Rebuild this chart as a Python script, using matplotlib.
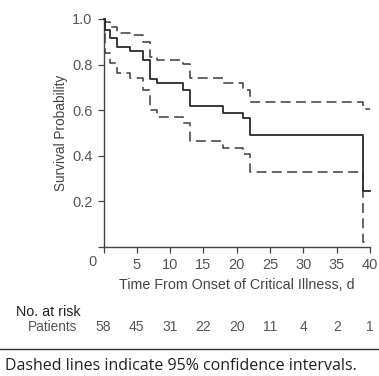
import matplotlib
matplotlib.use("Agg")
import matplotlib.pyplot as plt
from matplotlib.lines import Line2D

# ---- data ----
times = [0, 0.2, 1, 2, 4, 6, 7, 8, 12, 13, 18, 21, 22, 39, 40]
survival = [1.0, 0.95, 0.915, 0.878, 0.861, 0.82, 0.738, 0.72, 0.69, 0.618, 0.589, 0.564, 0.491, 0.247, 0.247]
upper_ci = [1.0, 0.985, 0.966, 0.94, 0.928, 0.90, 0.835, 0.82, 0.803, 0.74, 0.718, 0.69, 0.637, 0.604, 0.604]
lower_ci = [1.0, 0.852, 0.805, 0.765, 0.74, 0.69, 0.60, 0.571, 0.545, 0.465, 0.436, 0.407, 0.328, 0.023, 0.023]

x_ticks = [0, 5, 10, 15, 20, 25, 30, 35, 40]
x_tick_labels = ["", "5", "10", "15", "20", "25", "30", "35", "40"]
y_ticks = [0.0, 0.2, 0.4, 0.6, 0.8, 1.0]
y_tick_labels = ["", "0.2", "0.4", "0.6", "0.8", "1.0"]
risk_times = [0, 5, 10, 15, 20, 25, 30, 35, 40]
at_risk = [58, 45, 31, 22, 20, 11, 4, 2, 1]

W, H = 379, 376
plt.rcParams['font.family'] = ['Liberation Sans', 'DejaVu Sans']
fig = plt.figure(figsize=(W / 100, H / 100), dpi=100)

def fx(px):
    return px / W

def fy(py):
    return 1 - py / H

ax = fig.add_axes([fx(103.5), fy(247), fx(370) - fx(103.5), fy(19) - fy(247)])
ax.set_xlim(0, 40)
ax.set_ylim(0, 1.0)

tick_col = "#555555"
ax.step(times, survival, where="post", color="#2a2a2a", lw=1.3, clip_on=False, zorder=3)
ax.step(times, upper_ci, where="post", color="#3c3c3c", lw=1.1, dashes=(6.5, 3.5), clip_on=False)
ax.step(times, lower_ci, where="post", color="#3c3c3c", lw=1.1, dashes=(6.5, 3.5), clip_on=False)

for s in ["top", "right"]:
    ax.spines[s].set_visible(False)
for s in ["left", "bottom"]:
    ax.spines[s].set_color("#444444")
    ax.spines[s].set_linewidth(1.0)

ax.set_xticks(x_ticks)
ax.set_xticklabels(x_tick_labels)
ax.set_yticks(y_ticks)
ax.set_yticklabels(y_tick_labels)
ax.tick_params(axis="both", direction="out", length=4, width=0.9, color="#444444",
               labelcolor=tick_col, labelsize=10.5, pad=4)
ax.set_xlabel("Time From Onset of Critical Illness, d", fontsize=10.3, color="#444444", labelpad=4)
ax.set_ylabel("Survival Probability", fontsize=9.8, color="#444444", labelpad=3)

# origin label
ax.text(-1.6, -0.035, "0", transform=ax.transData, ha="center", va="top",
        fontsize=10.5, color=tick_col, clip_on=False)

# number at risk
fig.text(fx(15.7), fy(312), "No. at risk", ha="left", va="center", fontsize=10.3, color="#222222")
fig.text(fx(77), fy(327), "Patients", ha="right", va="center", fontsize=9.8, color="#555555")
for t, n in zip(risk_times, at_risk):
    xd = ax.transData.transform((t, 0))[0]
    xf = fig.transFigure.inverted().transform((xd, 0))[0]
    fig.text(xf, fy(327), str(n), ha="center", va="center", fontsize=10, color="#555555")

# rule and caption
fig.add_artist(Line2D([0, 1], [fy(349), fy(349)], transform=fig.transFigure, color="#333333", lw=1.0))
fig.text(fx(5), fy(366), "Dashed lines indicate 95% confidence intervals.",
         ha="left", va="center", fontsize=11.5, color="#222222", family=["Open Sans", "DejaVu Sans"])

fig.savefig("out.png", dpi=100)
